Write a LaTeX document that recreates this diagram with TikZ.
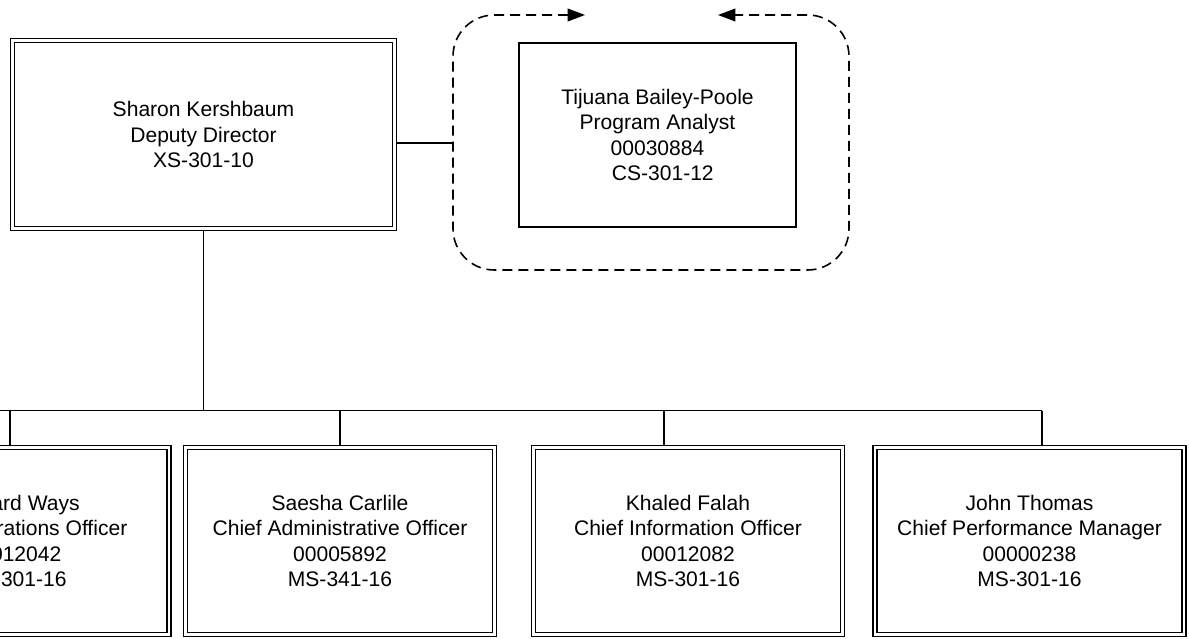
\documentclass[tikz,border=0pt]{standalone}
\usepackage{fontspec}
\setmainfont{Liberation Sans}
\usetikzlibrary{arrows.meta}
\newcommand{\orgfont}{\fontsize{15.8}{19}\selectfont}
\tikzset{
  postbox/.style={draw, double, line width=1.1pt, double distance=1.8pt, outer sep=2pt,
    inner sep=0pt, minimum width=231.75pt, minimum height=140.25pt,
    align=center, font=\orgfont},
  staffbox/.style={draw, line width=1.3pt, inner sep=0pt, outer sep=0.65pt,
    minimum width=207.75pt, minimum height=138pt, align=center, font=\orgfont},
  link/.style={line width=1.3pt},
  loopline/.style={line width=1.2pt, dash pattern=on 7.5pt off 4.5pt, rounded corners=31pt}
}

\begin{document}
\begin{tikzpicture}[x=0.75pt,y=0.75pt,yscale=-1,xscale=1]
\useasboundingbox (0,0) rectangle (1189,639);
\clip (0,0) rectangle (1189,639);

%Shape: Double Rect [id:kershbaum]
\draw (203.5,134.5) node [postbox, minimum width=286.5pt, minimum height=141pt] (kershbaum) {Sharon Kershbaum\\Deputy Director\\XS-301-10};
%Shape: Rectangle [id:baileypoole]
\draw (657.5,135) node [staffbox] (baileypoole) {Tijuana Bailey-Poole\\Program Analyst\\00030884\\\hspace*{0.5em}CS-301-12};

%Shape: Double Rect [id:ways]
\draw (14.5,541) node [postbox] (ways) {\hphantom{Rich}ard Ways\\\hphantom{Chief Ope}rations Officer\\\hphantom{00}012042\\\hphantom{MS}-301-16};
%Shape: Double Rect [id:carlile]
\draw (340,541) node [postbox] (carlile) {Saesha Carlile\\Chief Administrative Officer\\00005892\\MS-341-16};
%Shape: Double Rect [id:falah]
\draw (688,541) node [postbox] (falah) {Khaled Falah\\Chief Information Officer\\00012082\\MS-301-16};
%Shape: Double Rect [id:thomas]
\draw (1029.5,541) node [postbox] (thomas) {John Thomas\\Chief Performance Manager\\00000238\\MS-301-16};

% dashed loop round the staff post
\coordinate (loopA) at (585,15);
\coordinate (loopNW) at (453,15);
\coordinate (loopW) at (453,142.7);
\coordinate (loopSW) at (453,270);
\coordinate (loopSE) at (849,270);
\coordinate (loopNE) at (849,15);
\coordinate (loopB) at (718,15);
\draw [loopline, {Triangle[length=13pt,width=9.5pt]}-{Triangle[length=13pt,width=9.5pt]}] (loopA) -- (loopNW) -- (loopSW) -- (loopSE) -- (loopNE) -- (loopB);

%Straight Lines [staff link]
\draw [link] (kershbaum.east |- loopW) -- (loopW);

%Straight Lines [bus]
\coordinate (busW) at (0,410.5);
\coordinate (busE) at (1042,410.5);
\coordinate (waysTap) at (10,410.5);
\coordinate (falahTap) at (664,410.5);
\draw [link] (kershbaum.south) -- (kershbaum.south |- busW);
\draw [link] (busW) -- (busE);
\draw [link] (waysTap) -- (waysTap |- ways.north);
\draw [link] (carlile.north |- busW) -- (carlile.north);
\draw [link] (falahTap) -- (falahTap |- falah.north);
\draw [link] (busE) -- (busE |- thomas.north);

\end{tikzpicture}
\end{document}
